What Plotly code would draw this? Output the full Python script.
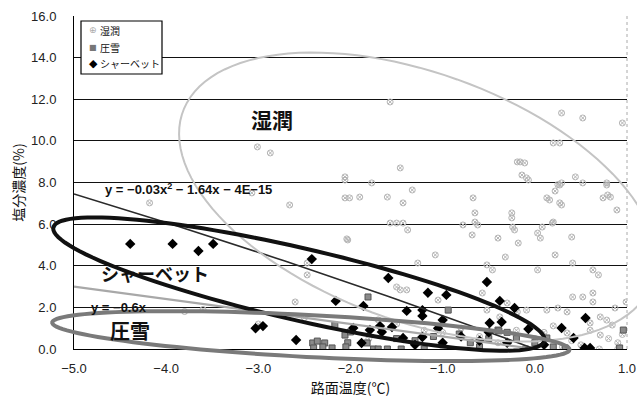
import numpy as np
import plotly.graph_objects as go

# ---------------- data ----------------
shitsujun_x = [-1.57, -3.01, -2.87, -1.46, -2.06, -1.77, -2.01, -1.90, -1.60, -1.43, -1.33, -0.67,
               -0.65, -0.19, -0.14, -0.09, 0.29, 0.52, 0.95, 0.20, 0.25, 0.29, 0.44, 0.52, 0.78,
               0.74, 0.82, 0.89, 0.13, 0.27, -0.25, -1.57, -1.50, -1.43, -0.78, -0.65, -0.24, 0.08,
               0.20, -4.18, -3.07, -2.66, 0.27, -0.16, -0.11, -0.07, 0.27, 0.22, 0.16, 0.29, 0.79,
               0.78, -0.25, 0.19, -0.22, -0.18, 0.03, 0.06, -0.40, 0.40, -0.32, 0.22,
               -1.38, -0.62, -0.68, 0.41, -2.04, -1.08, -0.52, -0.46, 0.03, 0.63, 0.69, -1.27,
               -1.50, -1.46, -1.39, -2.47, -1.05, -0.57, -0.52, -0.38, -0.30, -0.19, -0.09, 0.13,
               0.25, 0.35, 0.41, 0.52, 0.63, 0.71, 0.78, 0.84, 0.60, 0.87, 0.99, 0.63, 0.20, 0.35,
               0.71, -2.06, -2.06, -2.03, -2.47, -2.60, -1.00, -0.80, -0.60, -0.40, -0.20, 0.00,
               0.10, 0.40, 0.50, 0.60, 0.80, 0.90, 0.95, -1.50, -1.20, -1.70, -2.50, -3.00, -3.80,
               -3.60, -1.80, 0.30, 0.70, 0.90]
shitsujun_y = [11.87, 9.71, 9.42, 8.70, 8.27, 7.98, 7.26, 7.30, 7.30, 7.02, 7.64, 7.26,
               6.54, 8.99, 8.36, 8.22, 11.34, 11.10, 10.86, 9.90, 7.90, 7.98, 8.27, 7.98, 7.98,
               7.26, 7.30, 6.68, 7.26, 7.02, 6.54, 6.05, 6.05, 6.05, 5.96, 6.10, 5.86, 5.86,
               6.10, 7.02, 7.50, 6.92, 9.90, 8.99, 8.94, 8.12, 7.88, 7.59, 7.16, 6.92, 7.40,
               7.88, 6.30, 6.05, 5.72, 5.09, 5.57, 5.33, 5.33, 5.38, 4.42, 4.52,
               5.72, 5.96, 5.48, 4.13, 5.29, 4.52, 4.04, 3.80, 3.80, 3.80, 3.56, 4.13,
               2.98, 2.84, 2.84, 3.56, 2.35, 2.69, 1.87, 1.54, 2.21, 1.78, 1.87, 1.87,
               1.97, 1.78, 2.50, 2.50, 2.26, 1.54, 1.39, 1.15, 1.25, 1.97, 2.26, 2.69, 1.11, 0.77,
               0.67, 8.12, 7.26, 5.24, 4.13, 2.26, 0.80, 1.00, 0.60, 0.30, 0.90, 0.50,
               0.80, 0.40, 0.20, 0.90, 0.50, 0.30, 0.70, 1.20, 0.90, 1.40, 1.50, 1.20, 1.80,
               1.90, 0.50, 0.10, 0.00, 0.00]

assetsu_x = [-2.41, -2.36, -2.28, -2.30, -2.40, -2.17, -2.06, -2.03, -2.00, -2.05, -1.82, -1.81,
             -1.75, -1.70, -1.60, -1.45, -1.20, -1.30, -1.10, -0.94, -0.82, -0.70, -0.60, -0.40,
             -0.39, -0.30, -0.20, 0.00, 0.13, 0.20, 0.33, 0.96, 0.92, -1.50, -0.50, -1.00, -2.20,
             -0.10]
assetsu_y = [0.29, 0.38, 0.29, 0.10, 0.05, 1.15, 0.67, 0.30, 0.82, 0.10, 0.29, 2.50,
             0.00, 0.00, 0.00, 0.00, 0.00, 0.40, 0.60, 1.87, 0.72, 0.30, 0.10, 0.91,
             0.87, 0.80, 0.50, 0.30, 0.53, 0.10, 0.05, 0.91, 0.05, 0.50, 0.50, 0.20, 0.05,
             0.00]

sherbet_x = [-4.39, -3.93, -3.65, -3.49, -2.42, -2.16, -3.03, -2.95, -2.59, -1.59, -1.86, -1.16,
             -0.96, -0.52, -1.39, -1.22, -1.22, -1.00, -0.38, -0.22, -0.49, -0.36, -0.07, 0.29,
             0.42, 0.55, 0.54, 0.60, -1.66, -1.79, -1.68, -1.97, -1.43, -1.55, -1.88, -1.22,
             -1.05, -0.80, -0.60, -0.30, -1.30, -1.00, 0.10, -0.50]
sherbet_y = [5.05, 5.05, 4.71, 5.05, 4.32, 2.31, 1.00, 1.10, 0.43, 3.41, 2.07, 2.70,
             2.60, 3.22, 1.83, 1.87, 1.59, 1.39, 2.31, 1.97, 1.25, 1.30, 0.96, 1.01,
             0.53, 1.49, 0.05, 0.05, 0.82, 0.91, 1.10, 1.01, 0.53, 1.06, 0.29, 0.58,
             1.00, 0.60, 0.40, 0.30, 0.20, 0.30, 0.20, 0.80]

quad_coef = [-0.03, -1.64, -4e-15]   # y = a x^2 + b x + c
lin_coef = -0.6                      # y = m x

x_ticks = [-5.0, -4.0, -3.0, -2.0, -1.0, 0.0, 1.0]
y_ticks = [0, 2, 4, 6, 8, 10, 12, 14, 16]

series_names = ["湿潤", "圧雪", "シャーベット"]
series_colors = ["#b4b4b4", "#8a8a8a", "#000000"]

# ---------------- layout constants ----------------
X_RANGE = [-5.0, 1.0]
Y_RANGE = [0.0, 16.0]
FIG_W, FIG_H = 637, 397
ML, MR, MT, MB = 74, 10, 16, 48
PW, PH = FIG_W - ML - MR, FIG_H - MT - MB

FONT = "Liberation Sans, Arial, Noto Sans CJK JP, sans-serif"
CJK = "Noto Sans CJK JP, sans-serif"

fig = go.Figure()

fig.add_trace(go.Scatter(
    x=shitsujun_x, y=shitsujun_y, mode="markers", name=series_names[0], showlegend=False,
    marker=dict(symbol="circle-x-open", size=6, color=series_colors[0], line=dict(width=1, color=series_colors[0]))))
fig.add_trace(go.Scatter(
    x=assetsu_x, y=assetsu_y, mode="markers", name=series_names[1], showlegend=False,
    marker=dict(symbol="square", size=6, color=series_colors[1], line=dict(width=1, color="#555555"))))
fig.add_trace(go.Scatter(
    x=sherbet_x, y=sherbet_y, mode="markers", name=series_names[2], showlegend=False,
    marker=dict(symbol="diamond", size=8, color=series_colors[2])))

# trendlines
tx = np.linspace(-5.0, 0.0, 60)
fig.add_trace(go.Scatter(x=tx, y=quad_coef[0] * tx ** 2 + quad_coef[1] * tx + quad_coef[2],
                         mode="lines", line=dict(color="#2a2a2a", width=1.6),
                         showlegend=False, hoverinfo="skip"))
fig.add_trace(go.Scatter(x=tx, y=lin_coef * tx, mode="lines",
                         line=dict(color="#a8a8a8", width=2.2),
                         showlegend=False, hoverinfo="skip"))

# ---------------- hand-drawn ellipses (center in data units, radii in px) ----------------
ellipses = [
    # cx, cy, a_px, b_px, angle_deg, color, width
    (-1.27, 7.30, 250, 124, 20, "#c4c4c4", 2.0),
    (-2.56, 3.12, 252, 36, 13, "#111111", 4.0),
    (-2.43, 0.62, 259, 21, 3, "#7a7a7a", 4.0),
]


def ellipse_path(cx, cy, a, b, ang):
    cxp = (cx - X_RANGE[0]) / (X_RANGE[1] - X_RANGE[0]) * PW
    cyp = (Y_RANGE[1] - cy) / (Y_RANGE[1] - Y_RANGE[0]) * PH
    th = np.deg2rad(ang)
    t = np.linspace(0, 2 * np.pi, 120)
    px = cxp + a * np.cos(t) * np.cos(th) - b * np.sin(t) * np.sin(th)
    py = cyp + a * np.cos(t) * np.sin(th) + b * np.sin(t) * np.cos(th)
    X = px / PW
    Y = 1 - py / PH
    pts = [f"{x:.5f},{y:.5f}" for x, y in zip(X, Y)]
    return "M " + " L ".join(pts) + " Z"


shapes = []
for cx, cy, a, b, ang, col, w in ellipses:
    shapes.append(dict(type="path", xref="paper", yref="paper", path=ellipse_path(cx, cy, a, b, ang),
                       line=dict(color=col, width=w), layer="above"))
# right border (dotted)
shapes.append(dict(type="line", xref="paper", yref="paper", x0=1, x1=1, y0=0, y1=1,
                   line=dict(color="#aaaaaa", width=1, dash="dot"), layer="below"))

# legend box (drawn manually for exact size)
LEG_X0, LEG_X1, LEG_Y0, LEG_Y1 = 81, 162, 21, 74   # px within figure


def px2paper_x(px):
    return (px - ML) / PW


def px2paper_y(py):
    return (FIG_H - MB - py) / PH


shapes.append(dict(type="rect", xref="paper", yref="paper",
                   x0=px2paper_x(LEG_X0), x1=px2paper_x(LEG_X1),
                   y0=px2paper_y(LEG_Y1), y1=px2paper_y(LEG_Y0),
                   line=dict(color="#000", width=1.2), fillcolor="white", layer="above"))

annotations = [
    dict(x=-2.85, y=11.05, text="<b>湿潤</b>", showarrow=False, font=dict(family=CJK, size=21, color="#111")),
    dict(x=-4.12, y=3.65, text="<b>シャーベット</b>", showarrow=False, font=dict(family=CJK, size=18, color="#111")),
    dict(x=-4.39, y=0.91, text="<b>圧雪</b>", showarrow=False, font=dict(family=CJK, size=20, color="#111")),
    dict(x=-4.69, y=7.7, text="<b>y = −0.03x<sup>2</sup> − 1.64x − 4E−15</b>", showarrow=False,
         xanchor="left", font=dict(family=FONT, size=13, color="#111")),
    dict(x=-4.84, y=2.0, text="<b>y = −0.6x</b>", showarrow=False, xanchor="left",
         font=dict(family=FONT, size=13, color="#111")),
]

legend_symbols = ["⊕", "■", "◆"]
legend_sym_sizes = [9, 8, 11]
legend_sym_colors = ["#aaaaaa", "#777777", "#000000"]
for i, (nm, sym, col, ss) in enumerate(zip(series_names, legend_symbols, legend_sym_colors, legend_sym_sizes)):
    py = 30 + i * 17
    yp = px2paper_y(py)
    annotations.append(dict(xref="paper", yref="paper", x=px2paper_x(93), y=yp, text=sym,
                            xanchor="center", yanchor="middle",
                            showarrow=False, font=dict(family="DejaVu Sans", size=ss, color=col)))
    annotations.append(dict(xref="paper", yref="paper", x=px2paper_x(98), y=yp, text=nm,
                            xanchor="left", yanchor="middle",
                            showarrow=False, font=dict(family=CJK, size=10, color="#111")))

fig.update_layout(
    width=FIG_W, height=FIG_H,
    margin=dict(l=ML, r=MR, t=MT, b=MB, pad=0, autoexpand=False),
    paper_bgcolor="white", plot_bgcolor="white",
    font=dict(family=FONT, size=12, color="#222"),
    shapes=shapes, annotations=annotations,
    showlegend=False,
    xaxis=dict(range=X_RANGE, tickvals=x_ticks, tickformat=".1f", showgrid=False, zeroline=False,
               showline=True, linecolor="#000", linewidth=1, ticks="", ticklen=0,
               ticklabelstandoff=7, automargin=False,
               title=dict(text="路面温度(℃)", font=dict(family=CJK, size=14, color="#111"), standoff=9),
               tickfont=dict(size=13, color="#222")),
    yaxis=dict(range=Y_RANGE, tickvals=y_ticks, tickformat=".1f", showgrid=True, gridcolor="#111",
               gridwidth=1, zeroline=False, showline=True, linecolor="#000", linewidth=1,
               ticks="", ticklabelstandoff=14, automargin=False,
               title=dict(text="塩分濃度(%)", font=dict(family=CJK, size=14, color="#111"), standoff=3),
               tickfont=dict(size=13, color="#222")),
)

fig.write_html("out.html")
